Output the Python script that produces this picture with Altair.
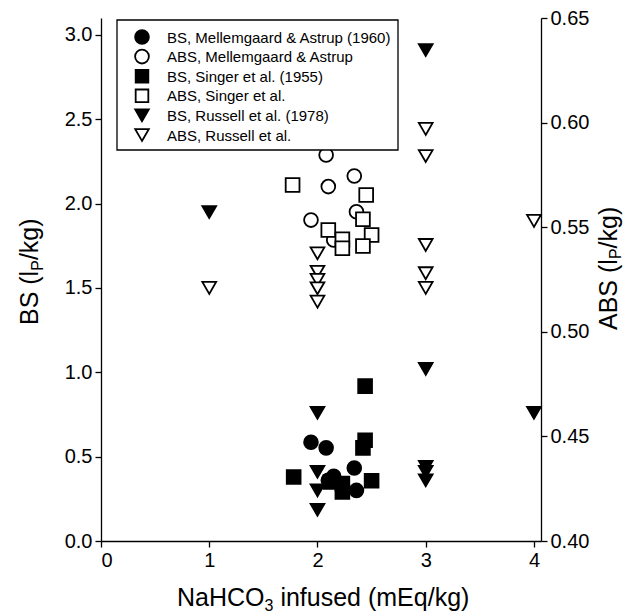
import altair as alt
import pandas as pd

FONT = "Liberation Sans"

series_names = [
    "BS, Mellemgaard & Astrup (1960)",
    "ABS, Mellemgaard & Astrup",
    "BS, Singer et al. (1955)",
    "ABS, Singer et al.",
    "BS, Russell et al. (1978)",
    "ABS, Russell et al.",
]
series_shapes = ["circle", "circle", "square", "square", "triangle-down", "triangle-down"]
series_fills = ["black", "white", "black", "white", "black", "white"]
series_sizes = [190, 190, 160, 160, 185, 185]

# BS values (left axis, lP/kg)
mell_bs_x = [1.94, 2.08, 2.10, 2.15, 2.34, 2.36]
mell_bs_y = [0.585, 0.552, 0.36, 0.383, 0.433, 0.30]
singer_bs_x = [1.78, 2.44, 2.44, 2.42, 2.50, 2.12, 2.23, 2.23]
singer_bs_y = [0.379, 0.918, 0.597, 0.552, 0.357, 0.35, 0.34, 0.29]
russ_bs_x = [1, 2, 2, 2, 2, 3, 3, 3, 3, 3, 4]
russ_bs_y = [1.95, 0.76, 0.41, 0.30, 0.185, 2.91, 1.02, 0.44, 0.41, 0.36, 0.76]

# ABS values (right axis, lP/kg)
mell_abs_x = [2.08, 2.34, 2.10, 1.94, 2.36, 2.15]
mell_abs_y = [0.5845, 0.5745, 0.5694, 0.5534, 0.5574, 0.5439]
singer_abs_x = [1.77, 2.45, 2.42, 2.50, 2.42, 2.10, 2.23, 2.23]
singer_abs_y = [0.5702, 0.5654, 0.5538, 0.5463, 0.5410, 0.5487, 0.5442, 0.5399]
russ_abs_x = [1, 2, 2, 2, 2, 2, 3, 3, 3, 3, 3, 4]
russ_abs_y = [0.521, 0.5375, 0.5287, 0.5248, 0.5208, 0.5144, 0.597, 0.584, 0.5415, 0.528, 0.521, 0.553]

x_ticks = [0, 1, 2, 3, 4]
bs_ticks = [0.0, 0.5, 1.0, 1.5, 2.0, 2.5, 3.0]
abs_ticks = [0.40, 0.45, 0.50, 0.55, 0.60, 0.65]

x_title = ["NaHCO", "3", "infused (mEq/kg)"]
bs_title = ["BS (l", "P", "/kg)"]
abs_title = ["ABS (l", "P", "/kg)"]


def rows(groups):
    out = []
    for name, xs, ys in groups:
        for a, b in zip(xs, ys):
            out.append({"x": a, "v": b, "series": name})
    return pd.DataFrame(out)


bs_df = rows([
    (series_names[0], mell_bs_x, mell_bs_y),
    (series_names[2], singer_bs_x, singer_bs_y),
    (series_names[4], russ_bs_x, russ_bs_y),
])
abs_df = rows([
    (series_names[1], mell_abs_x, mell_abs_y),
    (series_names[3], singer_abs_x, singer_abs_y),
    (series_names[5], russ_abs_x, russ_abs_y),
])

shape_scale = alt.Scale(domain=series_names, range=series_shapes)
fill_scale = alt.Scale(domain=series_names, range=series_fills)
size_scale = alt.Scale(domain=series_names, range=series_sizes)

x_enc = alt.X("x:Q", scale=alt.Scale(domain=[0, 4.065], nice=False, zero=False),
              axis=alt.Axis(values=x_ticks, format="d", title=None))


def points(df, y_enc):
    return alt.Chart(df).mark_point(filled=True, stroke="black", strokeWidth=1.8, opacity=1).encode(
        x=x_enc,
        y=y_enc,
        shape=alt.Shape("series:N", scale=shape_scale, legend=None),
        fill=alt.Fill("series:N", scale=fill_scale, legend=None),
        size=alt.Size("series:N", scale=size_scale, legend=None),
    )


bs_layer = points(bs_df, alt.Y("v:Q", scale=alt.Scale(domain=[0, 3.1], nice=False),
                               axis=alt.Axis(orient="left", values=bs_ticks, format=".1f", title=None)))
abs_layer = points(abs_df, alt.Y("v:Q", scale=alt.Scale(domain=[0.40, 0.65], nice=False, zero=False),
                                 axis=alt.Axis(orient="right", values=abs_ticks, format=".2f", title=None)))

one_row = pd.DataFrame({"k": [0]})


def label(text, x, y, size, angle=None, baseline="alphabetic"):
    kw = dict(align="left", baseline=baseline, font=FONT, fontSize=size, color="black")
    if angle is not None:
        kw["angle"] = angle
    return alt.Chart(one_row).mark_text(**kw).encode(
        x=alt.value(x), y=alt.value(y), text=alt.value(text))


titles = [
    label(x_title[0], 76, 588, 25),
    label(x_title[1], 163.5, 593, 16),
    label(x_title[2], 179.4, 588, 25),
    label(bs_title[0], -63, 307, 25, 270),
    label(bs_title[1], -58, 252.8, 16, 270),
    label(bs_title[2], -63, 242.1, 25, 270),
    label(abs_title[0], 516, 312, 25, 270),
    label(abs_title[1], 520, 241.1, 16, 270),
    label(abs_title[2], 516, 230.4, 25, 270),
]

# legend (drawn by hand)
legend_box = alt.Chart(one_row).mark_rect(fill="white", stroke="black", strokeWidth=1.3).encode(
    x=alt.value(16), x2=alt.value(297), y=alt.value(2), y2=alt.value(132))
legend_parts = [legend_box]
row_y = [19, 38.6, 58.2, 77.8, 97.4, 117]
for i, name in enumerate(series_names):
    legend_parts.append(
        alt.Chart(one_row).mark_point(
            shape=series_shapes[i], filled=True, fill=series_fills[i], stroke="black",
            strokeWidth=1.8, size=series_sizes[i], opacity=1,
        ).encode(x=alt.value(41), y=alt.value(row_y[i]))
    )
    legend_parts.append(label(name, 66, row_y[i] + 0.5, 15, baseline="middle"))

chart = alt.layer(bs_layer, abs_layer, *legend_parts, *titles).resolve_scale(y="independent").properties(
    width=440, height=523,
    padding={"left": 93, "top": 10, "right": 84, "bottom": 72},
    autosize=alt.AutoSizeParams(type="none"),
).configure_axis(
    labelFont=FONT, labelFontSize=20, labelColor="black",
    domainColor="black", tickColor="black", tickSize=6,
    domainWidth=1.3, tickWidth=1.3, grid=False, labelPadding=3,
).configure_view(strokeWidth=0)

chart.save("out.html", embed_options={"renderer": "svg", "actions": False})
